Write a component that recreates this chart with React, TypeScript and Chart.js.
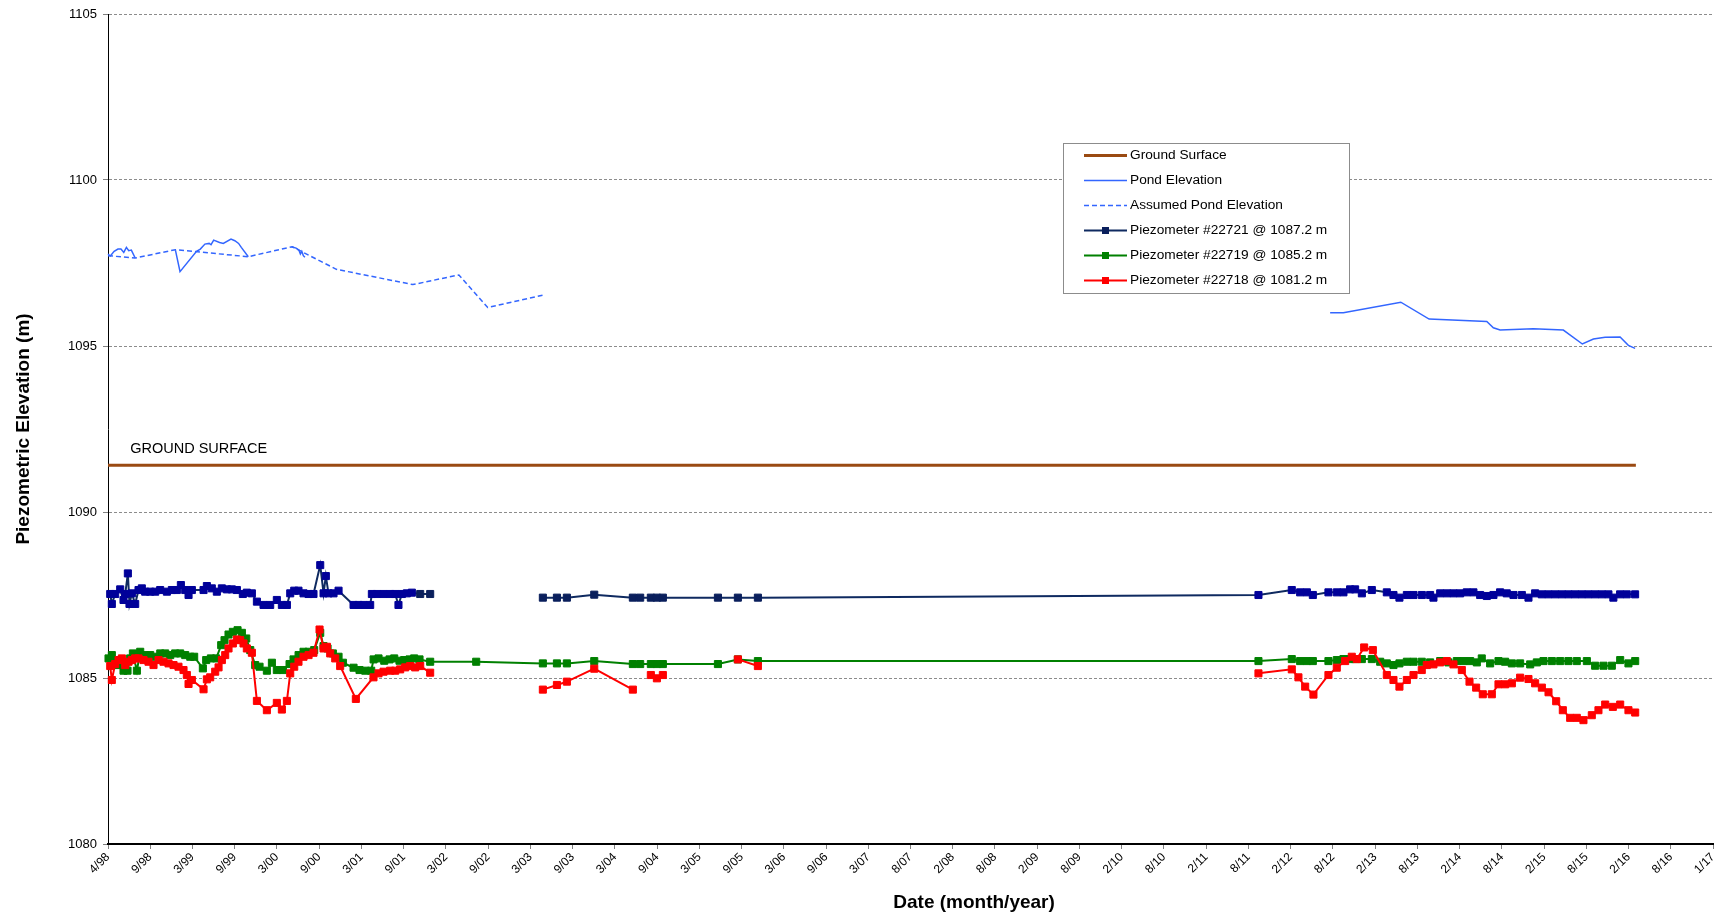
import React, { useEffect, useRef } from 'react';
import { Chart, registerables } from 'chart.js';

Chart.register(...registerables);

// X axis: decimal years. Ticks every 181 days starting at the 4/98 tick.
const TICK_LABELS = ['4/98','9/98','3/99','9/99','3/00','9/00','3/01','9/01','3/02','9/02','3/03','9/03','3/04','9/04','3/05','9/05','3/06','9/06','3/07','8/07','2/08','8/08','2/09','8/09','2/10','8/10','2/11','8/11','2/12','8/12','2/13','8/13','2/14','8/14','2/15','8/15','2/16','8/16','1/17'];
const TICK_START = 1998.249;
const TICK_STEP_DAYS = 181;
const Y_MIN = 1080;
const Y_MAX = 1105;
const Y_STEP = 5;

const GROUND_SURFACE: [number, number][] = [[1998.249, 1091.41], [2016.175, 1091.41]];

const POND_ELEVATION: [number, number | null][] = [
  [1998.249, 1097.77], [1998.276, 1097.71], [1998.321, 1097.85], [1998.366, 1097.92], [1998.401, 1097.92],
  [1998.434, 1097.82], [1998.465, 1097.97], [1998.492, 1097.87], [1998.523, 1097.89], [1998.568, 1097.65],
  [1998.8, null],
  [1999.040, 1097.89], [1999.094, 1097.24], [1999.288, 1097.85], [1999.332, 1097.92], [1999.386, 1098.07],
  [1999.436, 1098.09], [1999.458, 1098.05], [1999.489, 1098.19], [1999.558, 1098.12], [1999.602, 1098.09],
  [1999.692, 1098.22], [1999.737, 1098.17], [1999.781, 1098.09], [1999.813, 1097.97], [1999.895, 1097.69],
  [2000.15, null],
  [2000.402, 1097.99], [2000.456, 1097.95], [2000.488, 1097.89], [2000.506, 1097.77], [2000.523, 1097.85],
  [2000.541, 1097.72], [2000.559, 1097.67],
  [2006.0, null],
  [2012.588, 1096.00], [2012.743, 1096.00], [2013.417, 1096.32], [2013.749, 1095.81], [2014.426, 1095.74],
  [2014.503, 1095.55], [2014.582, 1095.48], [2014.972, 1095.52], [2015.324, 1095.48], [2015.547, 1095.06],
  [2015.677, 1095.21], [2015.814, 1095.26], [2015.990, 1095.27], [2016.087, 1095.02], [2016.166, 1094.93],
];

const ASSUMED_POND: [number, number][] = [
  [1998.249, 1097.72], [1998.568, 1097.65], [1999.040, 1097.90], [1999.895, 1097.69], [2000.411, 1097.99],
  [2000.928, 1097.31], [2001.826, 1096.85], [2002.366, 1097.14], [2002.704, 1096.16], [2003.347, 1096.53],
];

const PIEZO_22721: [number, number | null][] = [
  [1998.275, 1087.53], [1998.294, 1087.23], [1998.333, 1087.53], [1998.392, 1087.67], [1998.431, 1087.35],
  [1998.451, 1087.53], [1998.482, 1088.15], [1998.501, 1087.23], [1998.529, 1087.55], [1998.568, 1087.23],
  [1998.607, 1087.65], [1998.646, 1087.70], [1998.685, 1087.60], [1998.744, 1087.60], [1998.803, 1087.60],
  [1998.861, 1087.65], [1998.940, 1087.60], [1998.998, 1087.65], [1999.057, 1087.65], [1999.104, 1087.80],
  [1999.155, 1087.65], [1999.194, 1087.50], [1999.233, 1087.65], [1999.370, 1087.65], [1999.409, 1087.77],
  [1999.467, 1087.70], [1999.526, 1087.60], [1999.585, 1087.70], [1999.644, 1087.67], [1999.702, 1087.67],
  [1999.761, 1087.65], [1999.831, 1087.53], [1999.878, 1087.57], [1999.937, 1087.55], [1999.996, 1087.30],
  [2000.074, 1087.20], [2000.152, 1087.20], [2000.230, 1087.35], [2000.289, 1087.20], [2000.348, 1087.20],
  [2000.387, 1087.55], [2000.434, 1087.63], [2000.484, 1087.63], [2000.543, 1087.55], [2000.602, 1087.53],
  [2000.660, 1087.53], [2000.739, 1088.40], [2000.778, 1087.55], [2000.805, 1088.07], [2000.836, 1087.55],
  [2000.895, 1087.55], [2000.954, 1087.63], [2001.130, 1087.20], [2001.188, 1087.20], [2001.247, 1087.20],
  [2001.325, 1087.20], [2001.345, 1087.53], [2001.403, 1087.53], [2001.481, 1087.53], [2001.560, 1087.53],
  [2001.618, 1087.53], [2001.657, 1087.20], [2001.697, 1087.53], [2001.755, 1087.55], [2001.814, 1087.57],
  [2001.912, 1087.53], [2002.029, 1087.53],
  [2002.569, null],
  [2003.351, 1087.42], [2003.516, 1087.42], [2003.633, 1087.42], [2003.954, 1087.51], [2004.407, 1087.42],
  [2004.493, 1087.42], [2004.618, 1087.42], [2004.689, 1087.42], [2004.759, 1087.42], [2005.405, 1087.42],
  [2005.639, 1087.42], [2005.874, 1087.42],
  [2011.747, 1087.50], [2012.138, 1087.65], [2012.236, 1087.58], [2012.315, 1087.58], [2012.385, 1087.50],
  [2012.568, 1087.58], [2012.667, 1087.58], [2012.744, 1087.58], [2012.822, 1087.67], [2012.881, 1087.67],
  [2012.960, 1087.55], [2013.077, 1087.65], [2013.253, 1087.58], [2013.331, 1087.50], [2013.401, 1087.42],
  [2013.488, 1087.50], [2013.566, 1087.50], [2013.664, 1087.50], [2013.761, 1087.50], [2013.800, 1087.42],
  [2013.879, 1087.55], [2013.957, 1087.55], [2014.035, 1087.55], [2014.113, 1087.55], [2014.191, 1087.58],
  [2014.269, 1087.58], [2014.348, 1087.50], [2014.426, 1087.47], [2014.504, 1087.50], [2014.582, 1087.58],
  [2014.660, 1087.55], [2014.739, 1087.50], [2014.837, 1087.50], [2014.915, 1087.42], [2014.993, 1087.55],
  [2015.071, 1087.52], [2015.149, 1087.52], [2015.228, 1087.52], [2015.306, 1087.52], [2015.384, 1087.52],
  [2015.462, 1087.52], [2015.540, 1087.52], [2015.618, 1087.52], [2015.697, 1087.52], [2015.775, 1087.52],
  [2015.853, 1087.52], [2015.911, 1087.42], [2015.990, 1087.52], [2016.068, 1087.52], [2016.166, 1087.52],
];

const PIEZO_22719: [number, number | null][] = [
  [1998.255, 1085.59], [1998.294, 1085.69], [1998.333, 1085.54], [1998.373, 1085.39], [1998.431, 1085.22],
  [1998.478, 1085.22], [1998.509, 1085.59], [1998.541, 1085.74], [1998.588, 1085.22], [1998.627, 1085.79],
  [1998.685, 1085.69], [1998.744, 1085.69], [1998.803, 1085.64], [1998.862, 1085.74], [1998.920, 1085.74],
  [1998.979, 1085.69], [1999.037, 1085.74], [1999.096, 1085.74], [1999.155, 1085.69], [1999.214, 1085.64],
  [1999.260, 1085.64], [1999.362, 1085.29], [1999.401, 1085.54], [1999.456, 1085.59], [1999.518, 1085.59],
  [1999.577, 1085.99], [1999.616, 1086.14], [1999.663, 1086.31], [1999.714, 1086.39], [1999.769, 1086.44],
  [1999.820, 1086.36], [1999.871, 1086.19], [1999.918, 1085.84], [1999.976, 1085.39], [2000.027, 1085.34],
  [2000.113, 1085.22], [2000.172, 1085.46], [2000.230, 1085.24], [2000.301, 1085.24], [2000.379, 1085.42],
  [2000.426, 1085.56], [2000.485, 1085.69], [2000.543, 1085.79], [2000.602, 1085.79], [2000.668, 1085.84],
  [2000.739, 1086.36], [2000.778, 1085.96], [2000.825, 1085.89], [2000.887, 1085.74], [2000.954, 1085.64],
  [2001.005, 1085.46], [2001.130, 1085.31], [2001.200, 1085.24], [2001.267, 1085.22], [2001.337, 1085.22],
  [2001.365, 1085.56], [2001.423, 1085.59], [2001.490, 1085.52], [2001.552, 1085.56], [2001.607, 1085.59],
  [2001.669, 1085.52], [2001.724, 1085.54], [2001.787, 1085.56], [2001.841, 1085.59], [2001.904, 1085.56],
  [2002.029, 1085.49], [2002.569, 1085.49],
  [2003.351, 1085.44], [2003.516, 1085.44], [2003.633, 1085.44], [2003.954, 1085.51], [2004.407, 1085.42],
  [2004.493, 1085.42], [2004.618, 1085.42], [2004.689, 1085.42], [2004.759, 1085.42], [2005.405, 1085.42],
  [2005.639, 1085.56], [2005.874, 1085.51],
  [2011.747, 1085.51], [2012.138, 1085.57], [2012.236, 1085.51], [2012.314, 1085.51], [2012.385, 1085.51],
  [2012.568, 1085.51], [2012.666, 1085.54], [2012.744, 1085.57], [2012.823, 1085.57], [2012.881, 1085.57],
  [2012.960, 1085.57], [2013.077, 1085.57], [2013.175, 1085.49], [2013.253, 1085.44], [2013.331, 1085.39],
  [2013.401, 1085.44], [2013.488, 1085.49], [2013.566, 1085.49], [2013.663, 1085.49], [2013.761, 1085.47],
  [2013.879, 1085.51], [2013.976, 1085.47], [2014.074, 1085.51], [2014.152, 1085.51], [2014.231, 1085.51],
  [2014.309, 1085.47], [2014.367, 1085.59], [2014.465, 1085.44], [2014.563, 1085.51], [2014.641, 1085.49],
  [2014.720, 1085.44], [2014.817, 1085.44], [2014.935, 1085.41], [2015.013, 1085.47], [2015.091, 1085.51],
  [2015.189, 1085.51], [2015.287, 1085.51], [2015.384, 1085.51], [2015.482, 1085.51], [2015.600, 1085.51],
  [2015.697, 1085.37], [2015.795, 1085.37], [2015.893, 1085.37], [2015.991, 1085.54], [2016.088, 1085.44],
  [2016.167, 1085.51],
];

const PIEZO_22718: [number, number | null][] = [
  [1998.275, 1085.36], [1998.294, 1084.94], [1998.333, 1085.42], [1998.373, 1085.54], [1998.412, 1085.59],
  [1998.451, 1085.39], [1998.490, 1085.49], [1998.529, 1085.54], [1998.568, 1085.59], [1998.607, 1085.59],
  [1998.666, 1085.54], [1998.724, 1085.49], [1998.783, 1085.39], [1998.842, 1085.54], [1998.900, 1085.49],
  [1998.959, 1085.44], [1999.018, 1085.39], [1999.076, 1085.34], [1999.135, 1085.24], [1999.174, 1085.09],
  [1999.194, 1084.82], [1999.233, 1084.94], [1999.370, 1084.66], [1999.409, 1084.96], [1999.448, 1085.02],
  [1999.507, 1085.19], [1999.546, 1085.32], [1999.585, 1085.54], [1999.624, 1085.69], [1999.663, 1085.89],
  [1999.714, 1086.04], [1999.761, 1086.16], [1999.800, 1086.14], [1999.839, 1086.04], [1999.878, 1085.89],
  [1999.937, 1085.76], [1999.996, 1084.31], [2000.113, 1084.03], [2000.230, 1084.25], [2000.289, 1084.05],
  [2000.348, 1084.31], [2000.387, 1085.14], [2000.434, 1085.34], [2000.484, 1085.49], [2000.543, 1085.64],
  [2000.602, 1085.69], [2000.660, 1085.76], [2000.731, 1086.46], [2000.778, 1085.89], [2000.817, 1085.94],
  [2000.856, 1085.74], [2000.915, 1085.59], [2000.973, 1085.36], [2001.157, 1084.37], [2001.364, 1085.02],
  [2001.423, 1085.14], [2001.482, 1085.19], [2001.560, 1085.22], [2001.619, 1085.22], [2001.677, 1085.26],
  [2001.736, 1085.32], [2001.794, 1085.36], [2001.853, 1085.32], [2001.912, 1085.36], [2002.029, 1085.16],
  [2002.569, null],
  [2003.351, 1084.65], [2003.516, 1084.79], [2003.633, 1084.89], [2003.954, 1085.28], [2004.407, 1084.65],
  [2004.493, null],
  [2004.618, 1085.09], [2004.689, 1084.99], [2004.759, 1085.09],
  [2005.405, null],
  [2005.639, 1085.56], [2005.874, 1085.36],
  [2008.0, null],
  [2011.747, 1085.14], [2012.138, 1085.26], [2012.216, 1085.02], [2012.295, 1084.74], [2012.392, 1084.50],
  [2012.568, 1085.09], [2012.666, 1085.31], [2012.764, 1085.51], [2012.842, 1085.64], [2012.901, 1085.57],
  [2012.987, 1085.92], [2013.089, 1085.84], [2013.253, 1085.09], [2013.331, 1084.94], [2013.401, 1084.74],
  [2013.488, 1084.94], [2013.566, 1085.09], [2013.663, 1085.24], [2013.722, 1085.39], [2013.800, 1085.41],
  [2013.879, 1085.47], [2013.957, 1085.51], [2014.035, 1085.41], [2014.133, 1085.24], [2014.223, 1084.89],
  [2014.301, 1084.71], [2014.379, 1084.51], [2014.485, 1084.51], [2014.563, 1084.81], [2014.641, 1084.81],
  [2014.720, 1084.84], [2014.817, 1085.01], [2014.915, 1084.97], [2014.993, 1084.84], [2015.072, 1084.71],
  [2015.150, 1084.57], [2015.240, 1084.30], [2015.318, 1084.03], [2015.404, 1083.80], [2015.482, 1083.80],
  [2015.560, 1083.73], [2015.658, 1083.88], [2015.736, 1084.03], [2015.815, 1084.20], [2015.905, 1084.13],
  [2015.991, 1084.20], [2016.088, 1084.03], [2016.167, 1083.96],
];

const GROUND_LABEL = { text: 'GROUND SURFACE', x: 1998.509, y: 1091.9 };
const X_TITLE = 'Date (month/year)';
const Y_TITLE = 'Piezometric Elevation (m)';

const FONT = '"Liberation Sans", Arial, Helvetica, sans-serif';

const toXY = (pairs: [number, number | null][]) => pairs.map(([x, y]) => ({ x, y }));

const overlayPlugin = {
  id: 'overlay',
  afterDatasetsDraw(chart: any) {
    const { ctx, scales } = chart;
    ctx.save();
    ctx.fillStyle = '#000';
    ctx.font = `14.5px ${FONT}`;
    ctx.textAlign = 'left';
    ctx.textBaseline = 'middle';
    ctx.fillText(GROUND_LABEL.text, scales.x.getPixelForValue(GROUND_LABEL.x), scales.y.getPixelForValue(GROUND_LABEL.y));
    ctx.restore();
  },
  afterDraw(chart: any) {
    const { ctx, chartArea } = chart;
    ctx.save();
    // x axis title
    ctx.fillStyle = '#000';
    ctx.font = `bold 19px ${FONT}`;
    ctx.textAlign = 'center';
    ctx.textBaseline = 'middle';
    ctx.fillText(X_TITLE, chartArea.left + 0.5396 * (chartArea.right - chartArea.left), 903);

    // legend box
    const x0 = chartArea.left + 955;
    const y0 = chartArea.top + 129;
    const w = 286;
    const h = 150;
    ctx.fillStyle = '#fff';
    ctx.fillRect(x0, y0, w, h);
    ctx.strokeStyle = '#8c8c8c';
    ctx.lineWidth = 1;
    ctx.strokeRect(x0 + 0.5, y0 + 0.5, w, h);
    ctx.font = `13.7px ${FONT}`;
    ctx.textAlign = 'left';
    ctx.textBaseline = 'middle';
    const datasets = chart.data.datasets;
    datasets.forEach((ds: any, i: number) => {
      const y = Math.round(y0 + 12 + i * 24.9) + 0.5;
      const lx1 = x0 + 21;
      const lx2 = x0 + 64;
      ctx.save();
      ctx.strokeStyle = ds.borderColor;
      ctx.lineWidth = ds.borderWidth;
      ctx.setLineDash(ds.borderDash || []);
      ctx.beginPath();
      ctx.moveTo(lx1, y);
      ctx.lineTo(lx2, y);
      ctx.stroke();
      ctx.restore();
      if (ds.legendMarker) {
        ctx.fillStyle = ds.legendMarker;
        const cx = (lx1 + lx2) / 2;
        ctx.fillRect(cx - 3.5, y - 3.5, 7, 7);
      }
      ctx.fillStyle = '#000';
      ctx.fillText(ds.label, x0 + 67, y);
    });
    ctx.restore();
  },
};

export default function App() {
  const canvasRef = useRef<HTMLCanvasElement | null>(null);

  useEffect(() => {
    if (!canvasRef.current) return;
    Chart.defaults.font.family = FONT;
    Chart.defaults.color = '#000';
    const step = TICK_STEP_DAYS / 365.25;
    const xMax = TICK_START + (TICK_LABELS.length - 1) * step;

    const piezoColor22721 = (c: any) => {
      const x = c.raw && c.raw.x;
      return x > 2001.85 && x < 2011 ? '#0a1f5c' : '#000099';
    };

    const chart = new Chart(canvasRef.current, {
      type: 'line',
      data: {
        datasets: [
          {
            label: 'Ground Surface',
            data: toXY(GROUND_SURFACE),
            borderColor: '#9a4a12',
            borderWidth: 3,
            pointRadius: 0,
            order: 6,
          },
          {
            label: 'Pond Elevation',
            data: toXY(POND_ELEVATION),
            borderColor: '#3366ff',
            borderWidth: 1.5,
            pointRadius: 0,
            spanGaps: false,
            order: 5,
          },
          {
            label: 'Assumed Pond Elevation',
            data: toXY(ASSUMED_POND),
            borderColor: '#3366ff',
            borderWidth: 1.5,
            borderDash: [5, 3],
            pointRadius: 0,
            order: 4,
          },
          {
            label: 'Piezometer #22721 @ 1087.2 m',
            data: toXY(PIEZO_22721),
            borderColor: '#0f2a60',
            borderWidth: 2,
            pointStyle: 'rect',
            pointRadius: 5,
            pointBorderWidth: 1,
            pointBackgroundColor: piezoColor22721,
            pointBorderColor: piezoColor22721,
            spanGaps: false,
            order: 2,
            legendMarker: '#0a1f5c',
          } as any,
          {
            label: 'Piezometer #22719 @ 1085.2 m',
            data: toXY(PIEZO_22719),
            borderColor: '#008000',
            borderWidth: 2,
            pointStyle: 'rect',
            pointRadius: 5,
            pointBorderWidth: 1,
            pointBackgroundColor: '#008000',
            pointBorderColor: '#008000',
            order: 1,
            legendMarker: '#008000',
          } as any,
          {
            label: 'Piezometer #22718 @ 1081.2 m',
            data: toXY(PIEZO_22718),
            borderColor: '#ff0000',
            borderWidth: 2,
            pointStyle: 'rect',
            pointRadius: 5,
            pointBorderWidth: 1,
            pointBackgroundColor: '#ff0000',
            pointBorderColor: '#ff0000',
            spanGaps: false,
            order: 0,
            legendMarker: '#ff0000',
          } as any,
        ],
      },
      options: {
        responsive: false,
        animation: false,
        events: [],
        clip: false as any,
        elements: { line: { tension: 0 } },
        layout: { padding: { top: 14, right: 12, left: 0, bottom: 0 } },
        plugins: {
          legend: { display: false },
          tooltip: { enabled: false },
        },
        scales: {
          x: {
            type: 'linear',
            min: TICK_START,
            max: xMax,
            afterBuildTicks: (scale: any) => {
              scale.ticks = TICK_LABELS.map((_, i) => ({ value: TICK_START + i * step }));
            },
            afterFit: (scale: any) => {
              scale.height = 73;
            },
            ticks: {
              autoSkip: false,
              minRotation: 45,
              maxRotation: 45,
              padding: 1,
              font: { size: 12 },
              color: '#000',
              callback: (_v: any, i: number) => TICK_LABELS[i],
            },
            grid: {
              drawOnChartArea: false,
              drawTicks: true,
              tickLength: 5,
              tickColor: '#808080',
            },
            border: { display: true, color: '#000', width: 2 },
          },
          y: {
            type: 'linear',
            min: Y_MIN,
            max: Y_MAX,
            afterFit: (scale: any) => {
              scale.width = 108;
            },
            ticks: {
              stepSize: Y_STEP,
              padding: 6,
              font: { size: 13 },
              color: '#000',
              callback: (v: any) => String(v),
            },
            grid: {
              color: (c: any) => (c.tick && c.tick.value === Y_MIN ? 'rgba(0,0,0,0)' : '#8c8c8c'),
              lineWidth: 1,
              drawTicks: true,
              tickLength: 5,
              tickColor: '#808080',
            },
            border: { display: true, color: '#000', width: 1, dash: [3, 2] },
            title: {
              display: true,
              text: Y_TITLE,
              font: { size: 19, weight: 'bold' },
              color: '#000',
              padding: { top: 12, bottom: 0 },
            },
          },
        },
      },
      plugins: [overlayPlugin],
    } as any);

    return () => chart.destroy();
  }, []);

  return (
    <div style={{ position: 'fixed', left: 0, top: 0, width: 1725, height: 917, background: '#fff' }}>
      <canvas ref={canvasRef} width={1725} height={917} />
    </div>
  );
}
